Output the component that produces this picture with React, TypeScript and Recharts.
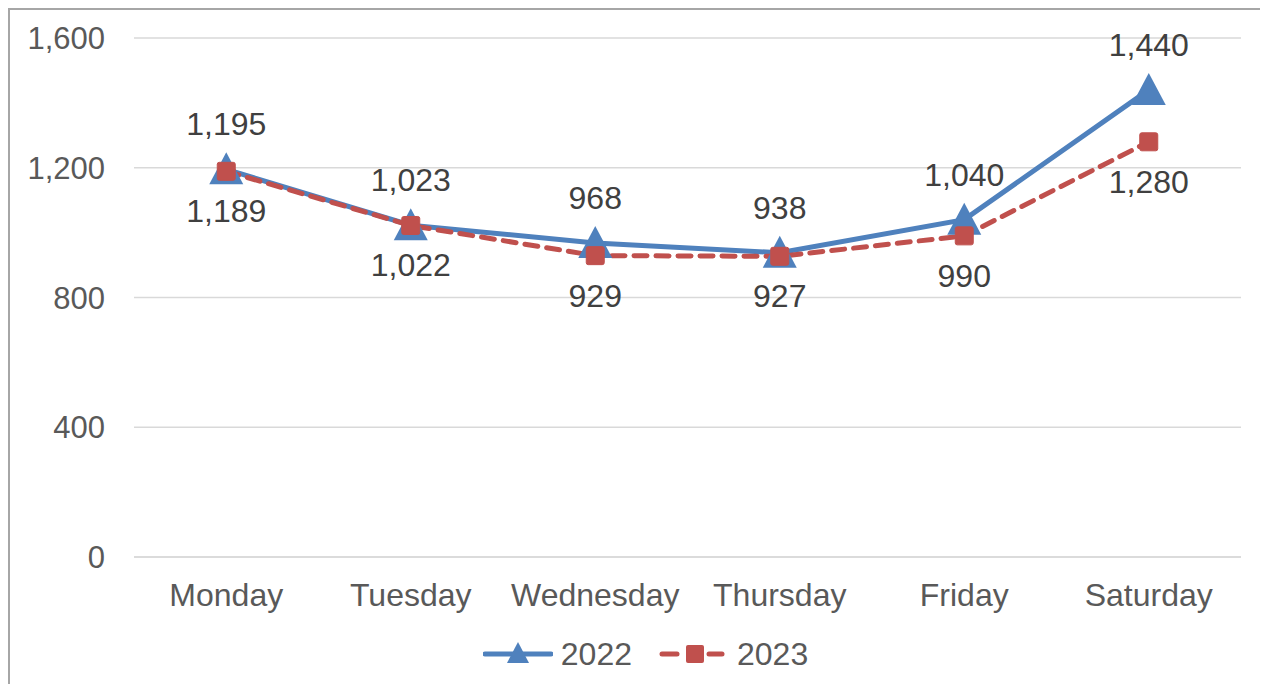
import { LineChart, Line, CartesianGrid, XAxis, YAxis, Legend, LabelList } from 'recharts'

const days = ['Monday', 'Tuesday', 'Wednesday', 'Thursday', 'Friday', 'Saturday']
const sales2022 = [1195, 1023, 968, 938, 1040, 1440]
const sales2023 = [1189, 1022, 929, 927, 990, 1280]
const yTicks = [0, 400, 800, 1200, 1600]

const data = days.map((d, i) => ({ day: d, y2022: sales2022[i], y2023: sales2023[i] }))

const BLUE = '#4f81bd'
const RED = '#c0504d'
const fmt = (v: number) => v.toLocaleString('en-US')

const Triangle = (props: any) => {
    const { cx, cy } = props
    if (cx == null || cy == null) return null
    return <polygon points={`${cx},${cy - 17} ${cx - 17},${cy + 15} ${cx + 17},${cy + 15}`} fill={BLUE} />
}

const Square = (props: any) => {
    const { cx, cy } = props
    if (cx == null || cy == null) return null
    return <rect x={cx - 9} y={cy - 9} width={18} height={18} rx={2} fill={RED} stroke={RED} strokeWidth={1} />
}

const labelAbove = (props: any) => {
    const { x, y, value } = props
    return (
        <text x={x} y={y - 45} fill='#404040' fontSize={32} textAnchor="middle" dominantBaseline="central">
            {fmt(value)}
        </text>
    )
}

const labelBelow = (props: any) => {
    const { x, y, value } = props
    return (
        <text x={x} y={y + 40} fill='#404040' fontSize={32} textAnchor="middle" dominantBaseline="central">
            {fmt(value)}
        </text>
    )
}

const CustomLegend = () => (
    <div style={{ display: 'flex', justifyContent: 'center', alignItems: 'center', height: 40, color: '#595959', fontSize: 32, paddingLeft: 40 }}>
        <svg width={70} height={30}>
            <line x1={2} y1={15} x2={68} y2={15} stroke={BLUE} strokeWidth={5} strokeLinecap="round" />
            <polygon points="35,3 24,24 46,24" fill={BLUE} />
        </svg>
        <span style={{ marginLeft: 8, marginRight: 27 }}>2022</span>
        <svg width={66} height={30}>
            <line x1={3} y1={15} x2={18} y2={15} stroke={RED} strokeWidth={5} strokeLinecap="round" />
            <rect x={27} y={6} width={18} height={18} rx={2} fill={RED} />
            <line x1={50} y1={15} x2={63} y2={15} stroke={RED} strokeWidth={5} strokeLinecap="round" />
        </svg>
        <span style={{ marginLeft: 12 }}>2023</span>
    </div>
)

const App = () => {
    return (
        <div style={{ width: 1258, height: 674, borderLeft: '2px solid #a6a6a6', borderTop: '2px solid #a6a6a6', fontFamily: '"Liberation Sans", Arial, sans-serif', background: '#fff' }}>
            <LineChart width={1258} height={674} data={data} margin={{ top: 28, right: 27, left: 0, bottom: 10 }}>
                <CartesianGrid vertical={false} stroke='#d9d9d9' strokeWidth={1.5} />
                <XAxis dataKey="day" scale="band" height={77} tickSize={0} tickMargin={26}
                    axisLine={{ stroke: '#d9d9d9', strokeWidth: 1.5 }} tickLine={false}
                    tick={{ fill: '#595959', fontSize: 32 }} />
                <YAxis width={124} domain={[0, 1600]} ticks={yTicks} tickSize={0} tickMargin={29}
                    axisLine={false} tickLine={false} tickFormatter={fmt}
                    tick={{ fill: '#595959', fontSize: 31 }} />
                <Legend verticalAlign="bottom" content={<CustomLegend />} />
                <Line dataKey="y2022" name="2022" stroke={BLUE} strokeWidth={5} dot={<Triangle />} activeDot={false} isAnimationActive={false}>
                    <LabelList dataKey="y2022" content={labelAbove} />
                </Line>
                <Line dataKey="y2023" name="2023" stroke={RED} strokeWidth={5} strokeDasharray="13 9" strokeLinecap="round" dot={<Square />} activeDot={false} isAnimationActive={false}>
                    <LabelList dataKey="y2023" content={labelBelow} />
                </Line>
            </LineChart>
        </div>
    )
}

export default App
